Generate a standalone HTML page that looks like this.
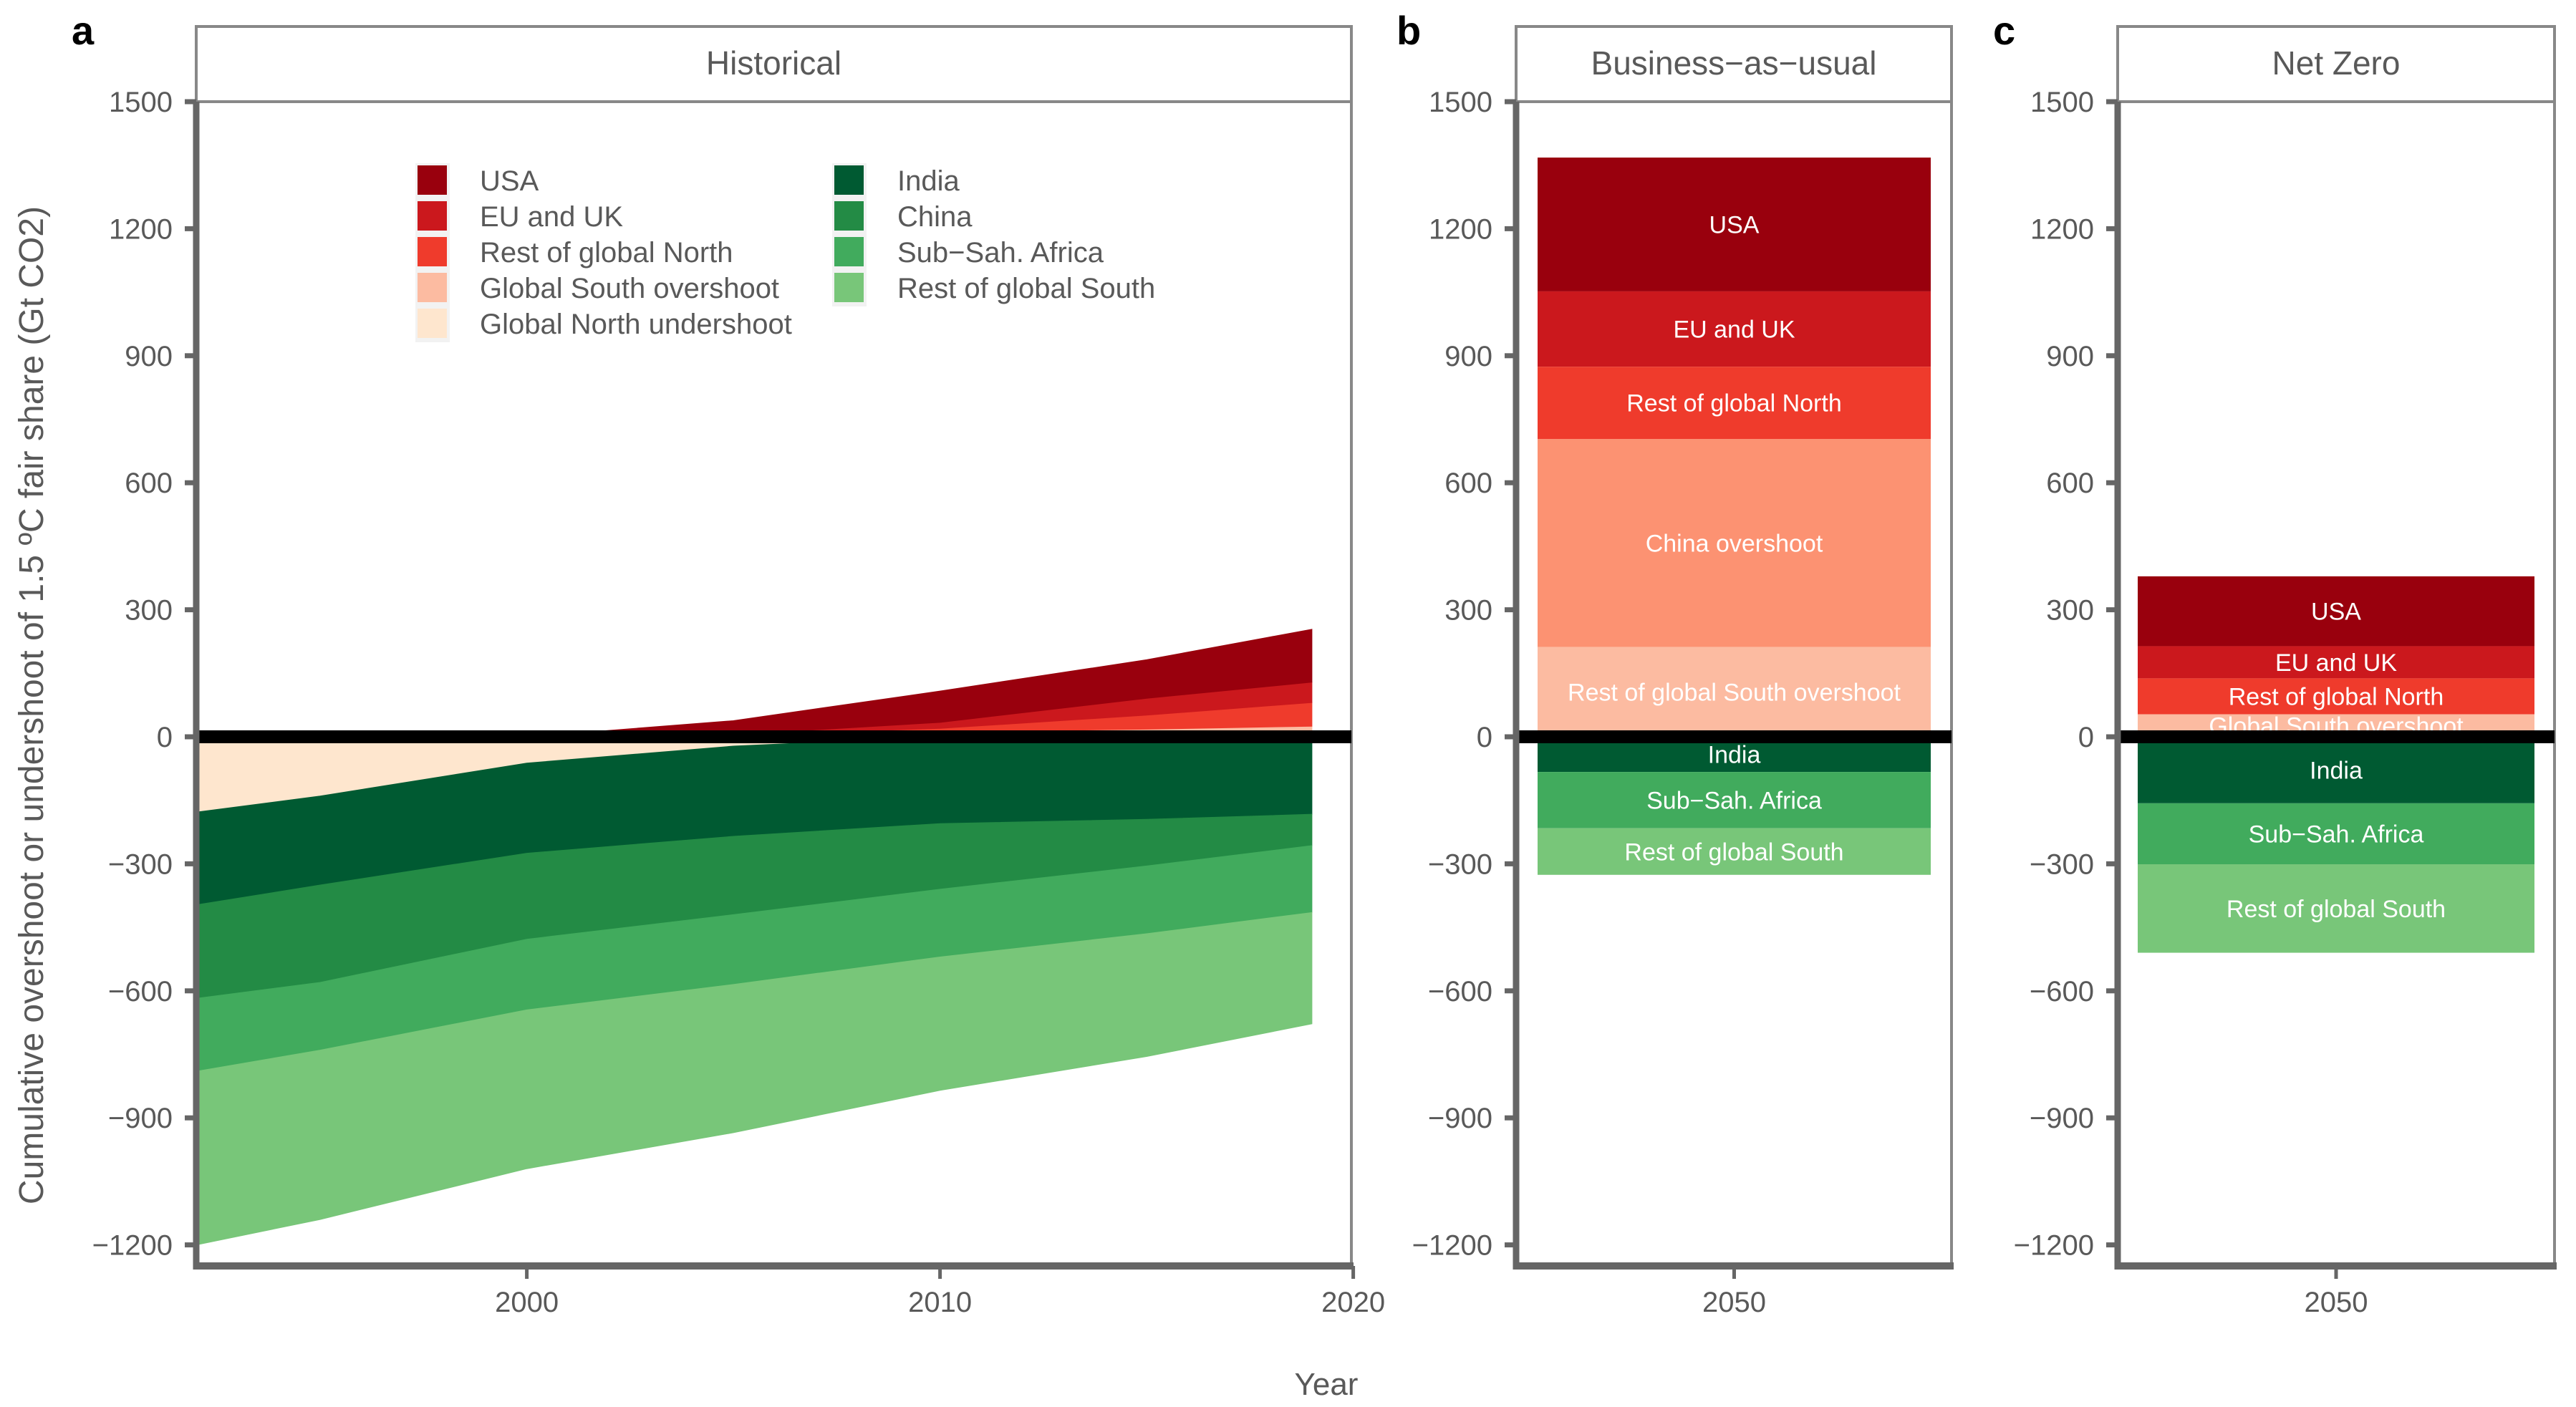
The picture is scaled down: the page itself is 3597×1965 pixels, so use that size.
<!DOCTYPE html>
<html><head><meta charset="utf-8">
<style>
html,body{margin:0;padding:0;background:#fff;}
svg{display:block;font-family:"Liberation Sans",Arial,sans-serif;}
</style></head>
<body>
<svg id="chart" width="3597" height="1965" viewBox="0 0 3597 1965" xmlns="http://www.w3.org/2000/svg"></svg>
<script>
// ---------- data ----------
const years = [1992, 1995, 2000, 2005, 2010, 2015, 2019];
// positive (overshoot) series, stacked upward from 0 (bottom first)
const gsOvershoot = [0, 0, 0, 3, 12, 18, 25];
const restNorth   = [0, 0, 0, 0, 8, 33, 56];
const euUk        = [0, 0, 0, 2, 14, 40, 48];
const usa         = [0, 0, 0, 33, 74, 91, 125];
// negative (undershoot) series, stacked downward from 0 (top first)
const gnUndershoot = [178, 140, 62, 22, 0, 0, 0];
const india        = [219, 210, 213, 213, 205, 195, 183];
const china        = [221, 230, 203, 185, 155, 110, 74];
const ssa          = [172, 160, 167, 165, 160, 160, 158];
const restSouth    = [410, 400, 375, 350, 315, 290, 263];

const yTicks = [1500, 1200, 900, 600, 300, 0, -300, -600, -900, -1200];
const xTicks = [2000, 2010, 2020];

const bauLabels = ["USA", "EU and UK", "Rest of global North", "China overshoot", "Rest of global South overshoot", "India", "Sub\u2212Sah. Africa", "Rest of global South"];
const bauValues = [316, 178, 171, 491, 212, -83, -133, -110];
const nzLabels = ["USA", "EU and UK", "Rest of global North", "Global South overshoot", "India", "Sub\u2212Sah. Africa", "Rest of global South"];
const nzValues = [165, 76, 85, 53, -157, -144, -209];

// ---------- colours ----------
const C = {usa:"#99000d", eu:"#cb181d", rn:"#ef3b2c", co:"#fc9272", gso:"#fcbba1", gnu:"#fee6ce",
  india:"#005a32", china:"#238b45", ssa:"#41ab5d", rs:"#78c679"};
const bauColors = [C.usa, C.eu, C.rn, C.co, C.gso, C.india, C.ssa, C.rs];
const nzColors = [C.usa, C.eu, C.rn, C.gso, C.india, C.ssa, C.rs];

const svg = document.getElementById('chart');
const NS = "http://www.w3.org/2000/svg";
function mk(tag, attrs, parent){ const e=document.createElementNS(NS,tag); for(const k in attrs) e.setAttribute(k,attrs[k]); (parent||svg).appendChild(e); return e; }

// ---------- scales ----------
const Y0 = 142, PER300 = 177.4;
function y(v){ return Y0 + (1500 - v) / 300 * PER300; }
const XA0 = 274, PERYR = 57.7;
function xa(yr){ return XA0 + (yr - 1992) * PERYR; }
const PTOP = 142, PBOT = 1768;
const GRAY = "#666666", TXT = "#595959";

function panelFrame(left, right, title, name){
  const s = mk('rect',{x:left,y:37,width:right-left,height:PTOP-37,fill:"#fff",stroke:"#888",'stroke-width':4});
  
  
  const t = mk('text',{x:(left+right)/2,y:104,'text-anchor':'middle','font-size':46,fill:TXT});
  t.textContent = title;
  
  
  const b = mk('rect',{x:left,y:PTOP,width:right-left,height:PBOT-PTOP,fill:"none",stroke:"#888",'stroke-width':4});
  
  
}
function yAxis(left, name){
  const g = mk('g',{});
  
  
  yTicks.forEach(v=>{
    mk('line',{x1:left-16,x2:left,y1:y(v),y2:y(v),stroke:GRAY,'stroke-width':7},g);
    const t = mk('text',{x:left-33,y:y(v)+14,'text-anchor':'end','font-size':40,fill:TXT},g);
    t.textContent = v<0 ? "\u2212"+Math.abs(v) : String(v);
    
    
  });
}
function axisLines(left, right, name){
  const a = mk('line',{x1:left,x2:left,y1:PTOP,y2:PBOT+5,stroke:GRAY,'stroke-width':9});
  
  
  const b = mk('line',{x1:left-4,x2:right+3,y1:PBOT,y2:PBOT,stroke:GRAY,'stroke-width':10});
  
  
}
function zeroLine(left,right,name){
  const z = mk('line',{x1:left,x2:right,y1:y(0),y2:y(0),stroke:"#000",'stroke-width':18});
  
  
}
function panelLetter(x, ch){
  const t = mk('text',{x:x,y:62,'font-size':56,'font-weight':'bold',fill:"#000"});
  t.textContent = ch;
  
  
}

// ---------- panel a ----------
const AL = 274, AR = 1887;
panelFrame(AL, AR, "Historical", "historical");

function area(lowerArr, upperArr, color, name){
  let d = "";
  years.forEach((yr,i)=>{ d += (i?"L":"M") + xa(yr).toFixed(1) + "," + y(upperArr[i]).toFixed(1); });
  for(let i=years.length-1;i>=0;i--) d += "L" + xa(years[i]).toFixed(1) + "," + y(lowerArr[i]).toFixed(1);
  const p = mk('path',{d:d+"Z",fill:color,stroke:color,'stroke-width':1});
  
  
}
let base = years.map(()=>0);
[[gsOvershoot,C.gso,"area-global-south-overshoot"],[restNorth,C.rn,"area-rest-of-global-north"],[euUk,C.eu,"area-eu-and-uk"],[usa,C.usa,"area-usa"]].forEach(([arr,col,nm])=>{
  const top = base.map((b,i)=>b+arr[i]);
  area(base, top, col, nm);
  base = top;
});
base = years.map(()=>0);
[[gnUndershoot,C.gnu,"area-global-north-undershoot"],[india,C.india,"area-india"],[china,C.china,"area-china"],[ssa,C.ssa,"area-sub-saharan-africa"],[restSouth,C.rs,"area-rest-of-global-south"]].forEach(([arr,col,nm])=>{
  const bot = base.map((b,i)=>b-arr[i]);
  area(bot, base, col, nm);
  base = bot;
});
zeroLine(AL, AR, "historical");
yAxis(AL, "historical");
axisLines(AL, AR, "historical");
xTicks.forEach(yr=>{
  const X = xa(yr);
  mk('line',{x1:X,x2:X,y1:PBOT,y2:PBOT+18,stroke:GRAY,'stroke-width':5});
  const t = mk('text',{x:X,y:1832,'text-anchor':'middle','font-size':40,fill:TXT});
  t.textContent = String(yr);
  
  
});
// legend
const legend = mk('g',{});


const legCols = [
  {kx:583, tx:670, items:[["USA",C.usa],["EU and UK",C.eu],["Rest of global North",C.rn],["Global South overshoot",C.gso],["Global North undershoot",C.gnu]]},
  {kx:1165, tx:1253, items:[["India",C.india],["China",C.china],["Sub\u2212Sah. Africa",C.ssa],["Rest of global South",C.rs]]}
];
legCols.forEach(col=>{
  col.items.forEach((it,i)=>{
    const ky = 231 + i*50;
    const g = mk('g',{},legend);
    
    
    mk('rect',{x:col.kx-3,y:ky-3,width:48,height:50,fill:"#f2f2f2"},g);
    mk('rect',{x:col.kx,y:ky,width:41,height:41,fill:it[1]},g);
    const t = mk('text',{x:col.tx,y:ky+35,'font-size':40,fill:TXT},g);
    t.textContent = it[0];
  });
});
const yt = mk('text',{x:0,y:0,'text-anchor':'middle','font-size':48,fill:TXT,transform:"translate(60,985) rotate(-90)"});
yt.textContent = "Cumulative overshoot or undershoot of 1.5 \u00baC fair share (Gt CO2)";


const xt = mk('text',{x:1852,y:1948,'text-anchor':'middle','font-size':44,fill:TXT});
xt.textContent = "Year";


panelLetter(100,"a");

// ---------- bar panels ----------
function barPanel(left, right, bl, br, title, labels, values, colors, name){
  panelFrame(left, right, title, name);
  // positive segments: first listed is on top -> stack from last positive upward
  let pos = 0, neg = 0;
  const segs = [];
  for(let i=values.length-1;i>=0;i--){
    if(values[i] >= 0){ segs[i] = [pos, pos+values[i]]; pos += values[i]; }
  }
  for(let i=0;i<values.length;i++){
    if(values[i] < 0){ segs[i] = [neg+values[i], neg]; neg += values[i]; }
  }
  values.forEach((v,i)=>{
    const top = y(segs[i][1]), bot = y(segs[i][0]);
    const r = mk('rect',{x:bl,y:top,width:br-bl,height:bot-top,fill:colors[i]});
    
    
    const t = mk('text',{x:(bl+br)/2,y:(top+bot)/2+12,'text-anchor':'middle','font-size':34,fill:"#fff"});
    t.textContent = labels[i];
    
    
  });
  zeroLine(left, right, name);
  yAxis(left, name);
  axisLines(left, right, name);
  const X = (bl+br)/2;
  mk('line',{x1:X,x2:X,y1:PBOT,y2:PBOT+18,stroke:GRAY,'stroke-width':5});
  const t = mk('text',{x:X,y:1832,'text-anchor':'middle','font-size':40,fill:TXT});
  t.textContent = "2050";
  
  
}
barPanel(2117, 2725, 2147, 2696, "Business\u2212as\u2212usual", bauLabels, bauValues, bauColors, "business-as-usual");
barPanel(2957, 3567, 2985, 3539, "Net Zero", nzLabels, nzValues, nzColors, "net-zero");
panelLetter(1950,"b");
panelLetter(2783,"c");
</script>
</body></html>
